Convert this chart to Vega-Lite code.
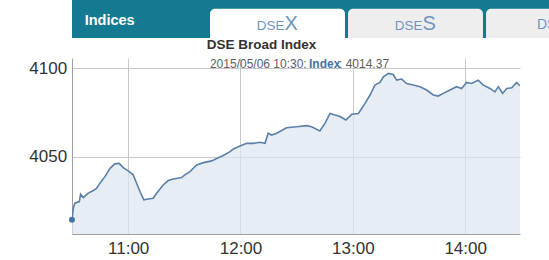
{
  "padding": 0,
  "spacing": 0,
  "config": {"view": {"stroke": null}},
  "vconcat": [
    {
      "width": 549,
      "height": 38,
      "view": {"fill": "#147a91", "stroke": null},
      "data": {"values": [
        {"tab": "Indices", "pre": "Indices", "suf": ""},
        {"tab": "DSEX", "pre": "DSE", "suf": "X"},
        {"tab": "DSES", "pre": "DSE", "suf": "S"},
        {"tab": "DS30", "pre": "DS30", "suf": ""}
      ]},
      "encoding": {
        "x": {"field": "tab", "type": "nominal", "scale": {"type": "band", "domain": ["Indices", "DSEX", "DSES", "DS30"], "paddingInner": 0.022, "paddingOuter": 0}, "axis": null},
        "y": {"datum": "tabs", "type": "nominal", "scale": {"type": "band", "domain": ["tabs"], "paddingInner": 0, "paddingOuter": 0.15, "align": 1}, "axis": null}
      },
      "layer": [
        {
          "transform": [{"filter": "datum.tab !== 'Indices'"}],
          "mark": {"type": "rect", "cornerRadiusTopLeft": 5, "cornerRadiusTopRight": 5},
          "encoding": {"fill": {"condition": {"test": "datum.tab === 'DSEX'", "value": "#ffffff"}, "value": "#eeeeee"}}
        },
        {
          "transform": [{"filter": "datum.tab === 'Indices'"}],
          "mark": {"type": "text", "align": "left", "baseline": "alphabetic", "dx": -54.8, "dy": 1.5, "font": "Liberation Sans", "fontSize": 14.5, "fontWeight": "bold", "color": "#ffffff"},
          "encoding": {"text": {"field": "pre"}}
        },
        {
          "transform": [{"filter": "datum.suf !== ''"}],
          "mark": {"type": "text", "align": "right", "baseline": "alphabetic", "dx": 7, "dy": 6.5, "font": "Liberation Sans", "fontSize": 13.5, "color": "#7094c0"},
          "encoding": {"text": {"field": "pre"}}
        },
        {
          "transform": [{"filter": "datum.suf !== ''"}],
          "mark": {"type": "text", "align": "left", "baseline": "alphabetic", "dx": 7, "dy": 6.5, "font": "Liberation Sans", "fontSize": 20, "color": "#7094c0"},
          "encoding": {"text": {"field": "suf"}}
        },
        {
          "transform": [{"filter": "datum.tab === 'DS30'"}],
          "mark": {"type": "text", "align": "center", "baseline": "alphabetic", "dx": 1, "dy": 5.5, "font": "Liberation Sans", "fontSize": 14, "color": "#7094c0"},
          "encoding": {"text": {"field": "pre"}}
        }
      ]
    },
    {
      "width": 448,
      "height": 176,
      "title": {"text": "DSE Broad Index", "font": "Liberation Sans", "fontSize": 13.5, "fontWeight": "bold", "color": "#333333", "anchor": "middle", "dx": -34.5, "offset": 6.5},
      "data": {"values": [
        {"t": "2015-05-06T10:30:00", "v": 4014.37},
        {"t": "2015-05-06T10:30:42", "v": 4020.9},
        {"t": "2015-05-06T10:31:30", "v": 4023.7},
        {"t": "2015-05-06T10:33:54", "v": 4024.6},
        {"t": "2015-05-06T10:34:36", "v": 4028.8},
        {"t": "2015-05-06T10:36:00", "v": 4026.9},
        {"t": "2015-05-06T10:38:06", "v": 4028.8},
        {"t": "2015-05-06T10:39:36", "v": 4029.9},
        {"t": "2015-05-06T10:41:00", "v": 4030.6},
        {"t": "2015-05-06T10:43:06", "v": 4032.1},
        {"t": "2015-05-06T10:44:54", "v": 4035.0},
        {"t": "2015-05-06T10:47:36", "v": 4038.7},
        {"t": "2015-05-06T10:50:18", "v": 4043.4},
        {"t": "2015-05-06T10:52:54", "v": 4045.9},
        {"t": "2015-05-06T10:55:12", "v": 4046.2},
        {"t": "2015-05-06T10:57:24", "v": 4043.8},
        {"t": "2015-05-06T11:00:00", "v": 4041.9},
        {"t": "2015-05-06T11:02:42", "v": 4039.7},
        {"t": "2015-05-06T11:04:30", "v": 4035.0},
        {"t": "2015-05-06T11:06:18", "v": 4030.3},
        {"t": "2015-05-06T11:08:24", "v": 4025.6},
        {"t": "2015-05-06T11:10:42", "v": 4026.1},
        {"t": "2015-05-06T11:13:24", "v": 4026.5},
        {"t": "2015-05-06T11:15:12", "v": 4029.3},
        {"t": "2015-05-06T11:18:42", "v": 4034.0},
        {"t": "2015-05-06T11:21:24", "v": 4036.5},
        {"t": "2015-05-06T11:24:06", "v": 4037.4},
        {"t": "2015-05-06T11:28:30", "v": 4038.2},
        {"t": "2015-05-06T11:30:18", "v": 4039.7},
        {"t": "2015-05-06T11:33:00", "v": 4041.5},
        {"t": "2015-05-06T11:36:36", "v": 4045.3},
        {"t": "2015-05-06T11:40:12", "v": 4046.6},
        {"t": "2015-05-06T11:44:36", "v": 4047.6},
        {"t": "2015-05-06T11:48:06", "v": 4049.4},
        {"t": "2015-05-06T11:50:48", "v": 4050.6},
        {"t": "2015-05-06T11:54:24", "v": 4052.8},
        {"t": "2015-05-06T11:56:12", "v": 4054.3},
        {"t": "2015-05-06T11:58:48", "v": 4055.6},
        {"t": "2015-05-06T12:03:18", "v": 4057.5},
        {"t": "2015-05-06T12:06:54", "v": 4057.5},
        {"t": "2015-05-06T12:10:24", "v": 4058.1},
        {"t": "2015-05-06T12:13:06", "v": 4057.5},
        {"t": "2015-05-06T12:14:48", "v": 4063.2},
        {"t": "2015-05-06T12:16:36", "v": 4062.2},
        {"t": "2015-05-06T12:19:18", "v": 4063.2},
        {"t": "2015-05-06T12:24:36", "v": 4066.3},
        {"t": "2015-05-06T12:30:00", "v": 4066.9},
        {"t": "2015-05-06T12:35:18", "v": 4067.5},
        {"t": "2015-05-06T12:38:00", "v": 4066.9},
        {"t": "2015-05-06T12:42:24", "v": 4064.5},
        {"t": "2015-05-06T12:45:06", "v": 4068.8},
        {"t": "2015-05-06T12:47:48", "v": 4074.4},
        {"t": "2015-05-06T12:50:30", "v": 4073.5},
        {"t": "2015-05-06T12:53:06", "v": 4072.6},
        {"t": "2015-05-06T12:56:18", "v": 4070.7},
        {"t": "2015-05-06T12:59:24", "v": 4073.9},
        {"t": "2015-05-06T13:03:00", "v": 4074.4},
        {"t": "2015-05-06T13:06:30", "v": 4080.1},
        {"t": "2015-05-06T13:09:12", "v": 4084.8},
        {"t": "2015-05-06T13:11:48", "v": 4090.4},
        {"t": "2015-05-06T13:14:30", "v": 4091.9},
        {"t": "2015-05-06T13:16:18", "v": 4095.1},
        {"t": "2015-05-06T13:19:00", "v": 4097.0},
        {"t": "2015-05-06T13:21:36", "v": 4096.4},
        {"t": "2015-05-06T13:23:24", "v": 4093.2},
        {"t": "2015-05-06T13:26:06", "v": 4093.8},
        {"t": "2015-05-06T13:28:42", "v": 4091.3},
        {"t": "2015-05-06T13:32:18", "v": 4090.4},
        {"t": "2015-05-06T13:35:54", "v": 4089.5},
        {"t": "2015-05-06T13:39:24", "v": 4087.6},
        {"t": "2015-05-06T13:43:00", "v": 4084.8},
        {"t": "2015-05-06T13:45:36", "v": 4084.2},
        {"t": "2015-05-06T13:48:18", "v": 4085.7},
        {"t": "2015-05-06T13:51:54", "v": 4087.6},
        {"t": "2015-05-06T13:55:24", "v": 4089.5},
        {"t": "2015-05-06T13:58:06", "v": 4088.5},
        {"t": "2015-05-06T14:00:48", "v": 4091.9},
        {"t": "2015-05-06T14:03:30", "v": 4091.3},
        {"t": "2015-05-06T14:07:00", "v": 4093.2},
        {"t": "2015-05-06T14:09:42", "v": 4090.4},
        {"t": "2015-05-06T14:13:18", "v": 4088.5},
        {"t": "2015-05-06T14:15:54", "v": 4086.6},
        {"t": "2015-05-06T14:17:42", "v": 4089.5},
        {"t": "2015-05-06T14:20:00", "v": 4085.7},
        {"t": "2015-05-06T14:22:12", "v": 4088.5},
        {"t": "2015-05-06T14:24:54", "v": 4088.9},
        {"t": "2015-05-06T14:27:30", "v": 4091.9},
        {"t": "2015-05-06T14:29:18", "v": 4090.0}
      ]},
      "encoding": {
        "x": {
          "field": "t", "type": "temporal",
          "scale": {"nice": false},
          "axis": {"title": null, "format": "%H:%M", "tickCount": 4, "grid": true, "gridColor": "#c8c8c8", "ticks": false, "domainColor": "#a0a0a0", "labelFont": "Liberation Sans", "labelFontSize": 17, "labelColor": "#333333", "labelPadding": 6.5}
        },
        "y": {
          "field": "v", "type": "quantitative", "stack": null,
          "scale": {"domain": [4006.3, 4105.7], "nice": false, "zero": false},
          "axis": {"title": null, "values": [4050, 4100], "format": "d", "grid": true, "gridColor": "#c8c8c8", "ticks": false, "domainColor": "#a0a0a0", "labelFont": "Liberation Sans", "labelFontSize": 17, "labelColor": "#333333", "labelPadding": 5.3, "minExtent": 72}
        }
      },
      "layer": [
        {"mark": {"type": "area", "clip": true, "color": "#dde6ef", "line": {"color": "#5b80a8", "strokeWidth": 1.6}}},
        {
          "transform": [{"filter": "datum.v === 4014.37"}],
          "mark": {"type": "point", "filled": true, "size": 35, "color": "#4572a7", "opacity": 1}
        },
        {
          "transform": [{"filter": "datum.v === 4014.37"}, {"calculate": "'2015/05/06 10:30:'", "as": "when"}],
          "mark": {"type": "text", "align": "right", "baseline": "alphabetic", "dx": -2.3, "font": "Liberation Sans", "fontSize": 12, "color": "#606060"},
          "encoding": {
            "text": {"field": "when"},
            "x": {"datum": {"year": 2015, "month": 5, "date": 6, "hours": 12, "minutes": 36, "seconds": 36}, "type": "temporal"},
            "y": {"datum": 4100, "type": "quantitative"}
          }
        },
        {
          "transform": [{"filter": "datum.v === 4014.37"}],
          "mark": {"type": "text", "align": "left", "baseline": "alphabetic", "font": "Liberation Sans", "fontSize": 12, "fontWeight": "bold", "color": "#4572a7", "text": "Index"},
          "encoding": {
            "x": {"datum": {"year": 2015, "month": 5, "date": 6, "hours": 12, "minutes": 36, "seconds": 36}, "type": "temporal"},
            "y": {"datum": 4100, "type": "quantitative"}
          }
        },
        {
          "transform": [{"filter": "datum.v === 4014.37"}, {"calculate": "': ' + format(datum.v, '.2f')", "as": "val"}],
          "mark": {"type": "text", "align": "left", "baseline": "alphabetic", "dx": 30, "font": "Liberation Sans", "fontSize": 12, "color": "#606060"},
          "encoding": {
            "text": {"field": "val"},
            "x": {"datum": {"year": 2015, "month": 5, "date": 6, "hours": 12, "minutes": 36, "seconds": 36}, "type": "temporal"},
            "y": {"datum": 4100, "type": "quantitative"}
          }
        }
      ]
    }
  ]
}
